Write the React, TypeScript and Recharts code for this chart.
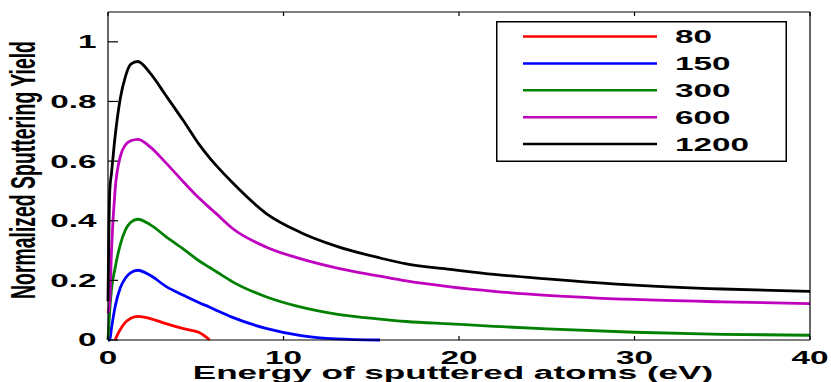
import { LineChart, Line, XAxis, YAxis, Legend } from 'recharts';

const energy = [0, 0.1, 0.2, 0.4, 0.7, 1.0, 1.3, 1.7, 2.4, 3.3, 4.3, 5.2, 5.8, 6.2, 7.1, 9, 11, 13, 15.5, 17, 19.5, 22, 25, 30, 35, 40];

const yield80 = [null, null, null, 0, 0.035, 0.06, 0.073, 0.079, 0.072, 0.055, 0.038, 0.025, 0, null, null, null, null, null, null, null, null, null, null, null, null, null];
const yield150 = [0, 0, 0.04, 0.11, 0.175, 0.208, 0.226, 0.234, 0.217, 0.18, 0.15, 0.125, 0.11, 0.099, 0.076, 0.039, 0.015, 0.004, 0, null, null, null, null, null, null, null];
const yield300 = [0, 0.1, 0.17, 0.24, 0.32, 0.37, 0.395, 0.405, 0.387, 0.347, 0.305, 0.265, 0.243, 0.228, 0.195, 0.145, 0.11, 0.087, 0.07, 0.062, 0.054, 0.046, 0.037, 0.026, 0.019, 0.016];
const yield600 = [0.09, 0.13, 0.3, 0.5, 0.615, 0.655, 0.668, 0.673, 0.648, 0.594, 0.53, 0.475, 0.443, 0.422, 0.374, 0.312, 0.272, 0.242, 0.214, 0.198, 0.178, 0.163, 0.15, 0.136, 0.128, 0.122];
const yield1200 = [0.13, 0.5, 0.56, 0.68, 0.81, 0.885, 0.925, 0.934, 0.895, 0.82, 0.735, 0.655, 0.61, 0.583, 0.527, 0.425, 0.36, 0.315, 0.275, 0.255, 0.237, 0.22, 0.205, 0.184, 0.171, 0.163];

const xTicks = [0, 10, 20, 30, 40];
const yTicks = [0, 0.2, 0.4, 0.6, 0.8, 1];

const series = [
  { key: 'y80', name: '80', color: '#ff0000' },
  { key: 'y150', name: '150', color: '#0000ff' },
  { key: 'y300', name: '300', color: '#008000' },
  { key: 'y600', name: '600', color: '#bf00bf' },
  { key: 'y1200', name: '1200', color: '#000000' },
];

const data = energy.map((e, i) => ({
  e,
  y80: yield80[i],
  y150: yield150[i],
  y300: yield300[i],
  y600: yield600[i],
  y1200: yield1200[i],
}));

const FONT = '"Liberation Sans", Arial, sans-serif';
const STRETCH = 1.85;

// ticks point into the plot, like the matlab box
function LeftTick({ x, y, payload }: any) {
  return (
    <g>
      <line x1={x} x2={x + 10} y1={y} y2={y} stroke="#000" strokeWidth={1.2} />
      <text transform={`translate(${x - 11.5},${y}) scale(${STRETCH},1)`} textAnchor="end" dy="0.36em"
        fontSize={18} fontWeight="bold" fontFamily={FONT} fill="#000">
        {payload.value}
      </text>
    </g>
  );
}

function BottomTick({ x, y, payload }: any) {
  return (
    <g>
      <line x1={x} x2={x} y1={y} y2={y - 4} stroke="#000" strokeWidth={1.2} />
      <text transform={`translate(${x},${y + 24}) scale(${STRETCH},1)`} textAnchor="middle"
        fontSize={18} fontWeight="bold" fontFamily={FONT} fill="#000">
        {payload.value}
      </text>
    </g>
  );
}

function TopTick({ x, y }: any) {
  return <line x1={x} x2={x} y1={y} y2={y + 4} stroke="#000" strokeWidth={1.2} />;
}

function RightTick({ x, y }: any) {
  return <line x1={x} x2={x - 8} y1={y} y2={y} stroke="#000" strokeWidth={1.2} />;
}

function LegendBox() {
  return (
    <svg width={291} height={141} style={{ display: 'block' }}>
      <rect x={0.75} y={0.75} width={289.5} height={139.5} fill="#fff" stroke="#000" strokeWidth={1.5} />
      {series.map((s, i) => {
        const cy = 15.5 + i * 26.9;
        return (
          <g key={s.key}>
            <line x1={27} x2={161} y1={cy} y2={cy} stroke={s.color} strokeWidth={2.5} />
            <text transform={`translate(179,${cy}) scale(${STRETCH},1)`} dy="0.36em"
              fontSize={18} fontWeight="bold" fontFamily={FONT} fill="#000">
              {s.name}
            </text>
          </g>
        );
      })}
    </svg>
  );
}

export default function App() {
  return (
    <div style={{ position: 'absolute', left: 0, top: 0, width: 831, height: 382, background: '#fff' }}>
      <LineChart width={831} height={382} data={data} margin={{ top: 11, right: 20, bottom: 0, left: 0 }}>
        <XAxis xAxisId="bottom" dataKey="e" type="number" domain={[0, 40]} ticks={xTicks}
          height={42} tickSize={0} tickMargin={0} tickLine={false} stroke="#000" strokeWidth={1.2}
          tick={<BottomTick />}
          label={{
            content: (p: any) => (
              <text transform={`translate(${p.viewBox.x + p.viewBox.width / 2 - 6},${p.viewBox.y + 39}) scale(1.95,1)`}
                textAnchor="middle" fontSize={18} fontWeight="bold" fontFamily={FONT} fill="#000">
                Energy of sputtered atoms (eV)
              </text>
            ),
          }}
        />
        <XAxis xAxisId="top" orientation="top" dataKey="e" type="number" domain={[0, 40]} ticks={xTicks}
          height={1} tickSize={0} tickMargin={0} tickLine={false} tick={<TopTick />} stroke="#000" strokeWidth={1.2} />
        <YAxis yAxisId="left" type="number" domain={[0, 1.1]} ticks={yTicks} width={108}
          tickSize={0} tickMargin={0} tickLine={false} stroke="#000" strokeWidth={1.2}
          tick={<LeftTick />}
          label={{
            content: (p: any) => (
              <text transform={`translate(35,${p.viewBox.y + p.viewBox.height / 2 - 6}) rotate(-90) scale(1.08,1.9)`}
                textAnchor="middle" fontSize={18} fontWeight="bold" fontFamily={FONT} fill="#000">
                Normalized Sputtering Yield
              </text>
            ),
          }}
        />
        <YAxis yAxisId="right" orientation="right" type="number" domain={[0, 1.1]} ticks={yTicks} width={1}
          tickSize={0} tickMargin={0} tickLine={false} tick={<RightTick />} stroke="#000" strokeWidth={1.2} />
        <Legend layout="horizontal" verticalAlign="middle" align="center" content={<LegendBox />}
          wrapperStyle={{ left: 496, top: 21, width: 291, height: 141 }} />
        {series.map((s) => (
          <Line key={s.key} xAxisId="bottom" yAxisId="left" type="monotone" dataKey={s.key} name={s.name}
            stroke={s.color} strokeWidth={2.8} dot={false} isAnimationActive={false} />
        ))}
      </LineChart>
    </div>
  );
}
